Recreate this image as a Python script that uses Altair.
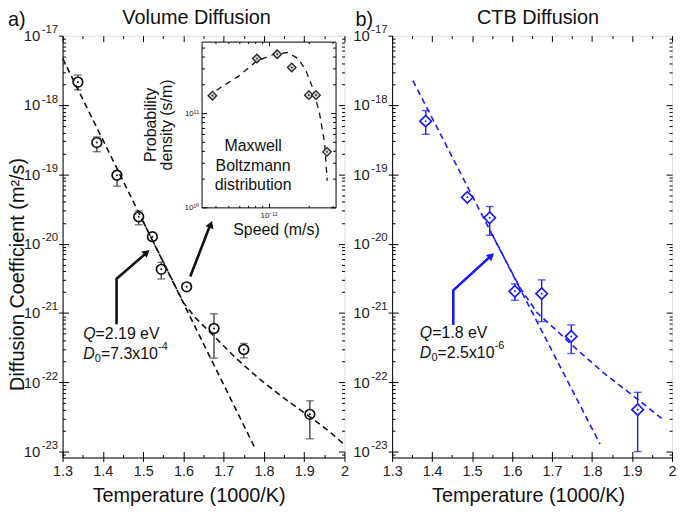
import altair as alt
import pandas as pd

FONT = "Liberation Sans"
BLUE = "#1a1aff"

# ---------------- data: panel a (Volume diffusion) ----------------
a_T = [1.338, 1.385, 1.435, 1.489, 1.523, 1.545, 1.608, 1.676, 1.750, 1.914]
a_D = [2.14e-18, 2.87e-19, 9.7e-20, 2.44e-20, 1.26e-20, 4.26e-21, 2.38e-21, 5.96e-22, 2.97e-22, 3.45e-23]
a_hi = [2.70e-18, 3.46e-19, 1.10e-19, 2.96e-20, 1.41e-20, 5.37e-21, 2.55e-21, 9.75e-22, 3.63e-22, 5.41e-23]
a_lo = [1.65e-18, 2.12e-19, 6.73e-20, 1.87e-20, 1.17e-20, 3.09e-21, 2.22e-21, 2.23e-22, 2.25e-22, 1.53e-23]

a_fit_T = [1.300, 1.776]
a_fit_D = [4.71e-18, 1.18e-23]
a_curve_T = [1.50, 1.56, 1.60, 1.63, 1.67, 1.73, 1.79, 1.85, 1.91, 1.96, 2.00]
a_curve_D = [2.09e-20, 4.17e-21, 1.41e-21, 8.51e-22, 5.01e-22, 2.24e-22, 1.10e-22, 5.89e-23, 3.31e-23, 2.0e-23, 1.26e-23]

a_arrow_id = [1, 1, 1, 2, 2]
a_arrow_T = [1.434, 1.434, 1.511, 1.617, 1.668]
a_arrow_D = [6.86e-22, 3.10e-21, 7.6e-21, 3.35e-21, 1.95e-20]
a_head_T = [1.509, 1.668]
a_head_D = [7.5e-21, 1.90e-20]
a_head_angle = [49, 21]
a_note_D = [4.9e-22, 2.54e-22]

# ---------------- data: panel b (CTB diffusion) ----------------
b_T = [1.384, 1.488, 1.544, 1.607, 1.674, 1.748, 1.914]
b_D = [5.85e-19, 4.65e-20, 2.36e-20, 2.05e-21, 1.90e-21, 4.59e-22, 4.03e-23]
b_hi = [8.30e-19, None, 3.43e-20, 2.63e-21, 3.0e-21, 6.73e-22, 7.16e-23]
b_lo = [3.78e-19, None, 1.32e-20, 1.52e-21, 7.5e-22, 2.60e-22, 1.0e-23]

b_fit_T = [1.352, 1.820]
b_fit_D = [2.24e-18, 1.28e-23]
b_curve_T = [1.55, 1.62, 1.664, 1.705, 1.7625, 1.828, 1.902, 1.980]
b_curve_D = [1.36e-20, 2.29e-21, 9.84e-22, 6.03e-22, 2.96e-22, 1.38e-22, 6.43e-23, 2.83e-23]

b_arrow_id = [1, 1, 1]
b_arrow_T = [1.453, 1.453, 1.550]
b_arrow_D = [6.73e-22, 2.12e-21, 6.9e-21]
b_head_T = [1.548]
b_head_D = [6.7e-21]
b_head_angle = [49]
b_note_D = [5.06e-22, 2.63e-22]

# ---------------- data: inset (Maxwell-Boltzmann) ----------------
in_speed = [3.81e-13, 8.18e-13, 1.16e-12, 1.49e-12, 2.00e-12, 2.26e-12, 2.73e-12]
in_prob = [1.53e11, 3.79e11, 4.21e11, 3.05e11, 1.55e11, 1.55e11, 3.88e10]
in_curve_speed = [4.08e-13, 5.94e-13, 8.07e-13, 1.08e-12, 1.39e-12, 1.66e-12, 1.90e-12, 2.14e-12, 2.40e-12, 2.62e-12, 2.74e-12]
in_curve_prob = [1.75e11, 2.45e11, 3.52e11, 4.18e11, 4.39e11, 3.79e11, 2.84e11, 1.83e11, 1.0e11, 4.83e10, 1.92e10]
in_note_speed = [7.67e-13]
in_note_prob = [4.5e10]

# ---------------- ticks ----------------
x_major = [1.3, 1.4, 1.5, 1.6, 1.7, 1.8, 1.9, 2.0]
x_minor = [1.35, 1.45, 1.55, 1.65, 1.75, 1.85, 1.95]
y_exps = [-23, -22, -21, -20, -19, -18, -17]
in_x_exps = [-12]
in_x_labels = ["10⁻¹²"]
in_y_exps = [10, 11]
in_y_labels = ["10¹⁰", "10¹¹"]

Y_LO, Y_HI = 10 ** -23.085, 1e-17
y_major = [10.0 ** e for e in y_exps]
y_all = [m * 10.0 ** e for e in range(-24, -17) for m in range(1, 10)
         if Y_LO <= m * 10.0 ** e <= Y_HI * 1.0001]
in_x_all = [4e-13, 5e-13, 6e-13, 7e-13, 8e-13, 9e-13, 1e-12, 2e-12, 3e-12]
in_y_all = [1e10, 2e10, 3e10, 4e10, 5e10, 6e10, 7e10, 8e10, 9e10, 1e11, 2e11, 3e11, 4e11, 5e11]

LOGEXP = "round(log(datum.value)/LN10)"
LOG_MAJOR = "abs(log(datum.value)/LN10 - round(log(datum.value)/LN10)) < 0.01"
X_MAJOR = "abs(datum.value*10 - round(datum.value*10)) < 0.01"


def label_expr(exps, labels):
    return "".join(f"{LOGEXP} == {e} ? '{l}' : " for e, l in zip(exps, labels)) + "''"


BASE = dict(labelFont=FONT, titleFont=FONT, labelColor="#222", titleColor="#111",
            domainColor="black", tickColor="black", titleFontWeight="normal", grid=False,
            labelFlush=False)


def ax(**kw):
    d = dict(BASE)
    d.update(kw)
    return alt.Axis(**d)


def inner(orient, offset, values, test, big=6, small=3, domain=False):
    return ax(orient=orient, offset=offset, values=values, labels=False, domain=domain,
              title=None, tickWidth=1,
              tickSize={"condition": {"test": test, "value": big}, "value": small})


W_A, W_B, H = 284, 282, 425
NOTE_FS = 16
SUB_FS = 11
IN_X0, IN_X1, IN_Y0, IN_Y1 = 140, 275, 173, 6


def panel(T, D, lo, hi, fitT, fitD, cT, cD, arT, arD, arId, hT, hD, hA,
          color, err_color, shape, psize, width, ytitle, title_text, title_x,
          letter, letter_x, note_T, note_D, q_txt, d_txt, xtitle_x, inset=False):
    xs = alt.Scale(domain=[1.3, 2.0], nice=False, zero=False)
    ys = alt.Scale(type="log", domain=[Y_LO, Y_HI], nice=False)

    def X(f, axis):
        return alt.X(f"{f}:Q", scale=xs, axis=axis)

    def Y(f, axis):
        return alt.Y(f"{f}:Q", scale=ys, axis=axis)

    main_x = ax(orient="bottom", values=x_major, format="~g", labelFontSize=14.5,
                tickSize=4, labelPadding=3, title="Temperature (1000/K)",
                titleFontSize=20, titlePadding=8, titleX=xtitle_x)
    ykw = dict(orient="left", values=y_major, labelExpr="'10'",
               labelFontSize=15, tickSize=4, labelPadding=19)
    if ytitle:
        ykw.update(title=ytitle, titleFontSize=20, titleX=-35, titleY=240,
                   titleBaseline="bottom", titleAngle=270)
    else:
        ykw.update(title=None)
    main_y = ax(**ykw)
    exp_y = ax(orient="left", values=y_major, labelExpr="'' + " + LOGEXP,
               labelFontSize=11.5, ticks=False, tickSize=0, domain=False, labelPadding=5,
               labelOffset=-6, title=None)

    df = pd.DataFrame({"T": T, "D": D, "lo": lo, "hi": hi})
    layers = [
        alt.Chart(df).mark_rule(color=err_color, strokeWidth=1.4).encode(
            x=X("T", main_x), y=Y("lo", main_y), y2="hi:Q"),
        alt.Chart(df).mark_tick(orient="horizontal", size=8, thickness=1.4, color=err_color).encode(
            x=X("T", inner("top", -H, x_major + x_minor, X_MAJOR)),
            y=Y("hi", inner("right", -width, y_all, LOG_MAJOR))),
        alt.Chart(df).mark_tick(orient="horizontal", size=8, thickness=1.4, color=err_color).encode(
            x=X("T", inner("bottom", -H, x_major + x_minor, X_MAJOR)),
            y=Y("lo", inner("left", -width, y_all, LOG_MAJOR))),
        alt.Chart(df).mark_point(shape=shape, filled=True, fill="white", size=psize,
                                 stroke=color, strokeWidth=1.7, opacity=1).encode(
            x=X("T", None), y=Y("D", exp_y)),
        alt.Chart(df).mark_point(shape="circle", filled=True, size=4, color=color, opacity=1).encode(
            x=X("T", None), y=Y("D", None)),
        alt.Chart(pd.DataFrame({"T": fitT, "D": fitD})).mark_line(
            color=color, strokeWidth=1.6, strokeDash=[6, 4]).encode(x=X("T", None), y=Y("D", None)),
        alt.Chart(pd.DataFrame({"T": cT, "D": cD})).mark_line(
            color=color, strokeWidth=1.6, strokeDash=[6, 4]).encode(x=X("T", None), y=Y("D", None)),
        alt.Chart(pd.DataFrame({"T": arT, "D": arD, "id": arId, "k": list(range(len(arT)))})).mark_line(
            color=color, strokeWidth=2.6).encode(
            x=X("T", None), y=Y("D", None), detail="id:N", order="k:Q"),
        alt.Chart(pd.DataFrame({"T": hT, "D": hD, "ang": hA})).mark_point(
            shape="triangle-up", filled=True, size=70, color=color, opacity=1).encode(
            x=X("T", None), y=Y("D", None), angle=alt.Angle("ang:Q", scale=None)),
    ]
    # annotation: Q=..., D0=...x10^-n  (pieces: italic letter, subscript, body, superscript)
    qd = pd.DataFrame({"T": [note_T], "D": [note_D[0]], "a": ["Q"], "b": [q_txt]})
    dd = pd.DataFrame({"T": [note_T], "D": [note_D[1]], "a": ["D"], "s": ["0"],
                       "b": [d_txt[0]], "e": [d_txt[1]]})
    txt = dict(baseline="middle", align="left", font=FONT, color="#111")
    layers += [
        alt.Chart(qd).mark_text(fontSize=NOTE_FS, fontStyle="italic", **txt).encode(
            x=X("T", None), y=Y("D", None), text="a:N"),
        alt.Chart(qd).mark_text(fontSize=NOTE_FS, dx=12.5, **txt).encode(
            x=X("T", None), y=Y("D", None), text="b:N"),
        alt.Chart(dd).mark_text(fontSize=NOTE_FS, fontStyle="italic", **txt).encode(
            x=X("T", None), y=Y("D", None), text="a:N"),
        alt.Chart(dd).mark_text(fontSize=SUB_FS, dx=11.8, dy=5, **txt).encode(
            x=X("T", None), y=Y("D", None), text="s:N"),
        alt.Chart(dd).mark_text(fontSize=NOTE_FS, dx=18, **txt).encode(
            x=X("T", None), y=Y("D", None), text="b:N"),
        alt.Chart(dd).mark_text(fontSize=SUB_FS, dx=75.5, dy=-7, **txt).encode(
            x=X("T", None), y=Y("D", None), text="e:N"),
        alt.Chart(pd.DataFrame({"t": [letter]})).mark_text(
            align="left", baseline="alphabetic", fontSize=20, font=FONT, color="#111").encode(
            x=alt.value(letter_x), y=alt.value(-10), text="t:N"),
        alt.Chart(pd.DataFrame({"t": [title_text]})).mark_text(
            align="center", baseline="alphabetic", fontSize=20, font=FONT, color="#111").encode(
            x=alt.value(title_x), y=alt.value(-12), text="t:N"),
    ]

    if inset:
        xi = alt.Scale(type="log", domain=[10 ** -12.5, 10 ** -11.5], range=[IN_X0, IN_X1], nice=False)
        yi = alt.Scale(type="log", domain=[1e10, 10 ** 11.758], range=[IN_Y0, IN_Y1], nice=False)

        def XI(f, axis):
            return alt.X(f"{f}:Q", scale=xi, axis=axis)

        def YI(f, axis):
            return alt.Y(f"{f}:Q", scale=yi, axis=axis)

        in_lab_x = ax(orient="bottom", offset=-(H - IN_Y0), values=[10.0 ** e for e in in_x_exps],
                      labelExpr=label_expr(in_x_exps, in_x_labels), labelFontSize=8,
                      ticks=False, labelPadding=4, domain=True, title="Speed (m/s)",
                      titleFontSize=16, titleX=215, titleY=27, titleBaseline="alphabetic")
        in_lab_y = ax(orient="left", offset=-IN_X0, values=[10.0 ** e for e in in_y_exps],
                      labelExpr=label_expr(in_y_exps, in_y_labels), labelFontSize=8,
                      ticks=False, labelPadding=3, domain=True,
                      title=["Probability", "density (s/m)"], titleFontSize=16,
                      titlePadding=10, titleLineHeight=16)
        dfi = pd.DataFrame({"s": in_speed, "p": in_prob})
        layers += [
            alt.Chart(pd.DataFrame({"s": in_curve_speed, "p": in_curve_prob})).mark_line(
                color="#111", strokeWidth=1.3, strokeDash=[6, 5]).encode(
                x=XI("s", inner("bottom", -(H - IN_Y1), in_x_all, LOG_MAJOR, 4, 2, True)),
                y=YI("p", inner("left", -IN_X1, in_y_all, LOG_MAJOR, 5, 3, True))),
            alt.Chart(dfi).mark_point(shape="diamond", filled=True, fill="#cfcfcf", size=75,
                                      stroke="#222", strokeWidth=1.3, opacity=1).encode(
                x=XI("s", in_lab_x), y=YI("p", in_lab_y)),
            alt.Chart(dfi).mark_point(shape="circle", filled=True, size=3, color="#222", opacity=1).encode(
                x=XI("s", inner("top", -IN_Y0, in_x_all, LOG_MAJOR, 4, 2)),
                y=YI("p", inner("right", -(width - IN_X0), in_y_all, LOG_MAJOR, 5, 3))),
            alt.Chart(pd.DataFrame({"s": in_note_speed, "p": in_note_prob,
                                    "t": ["Maxwell\nBoltzmann\ndistribution"]})).mark_text(
                align="center", baseline="middle", fontSize=16, lineHeight=20, lineBreak="\n",
                font=FONT, color="#111").encode(
                x=XI("s", None), y=YI("p", None), text="t:N"),
        ]

    return alt.layer(*layers).resolve_scale(x="independent", y="independent").resolve_axis(
        x="independent", y="independent").properties(width=width, height=H)


pa = panel(a_T, a_D, a_lo, a_hi, a_fit_T, a_fit_D, a_curve_T, a_curve_D,
           a_arrow_T, a_arrow_D, a_arrow_id, a_head_T, a_head_D, a_head_angle,
           "#111", "#444", "circle", 95, W_A, "Diffusion Coefficient (m²/s)",
           "Volume Diffusion", 135, "a)", -55, 1.351, a_note_D,
           "=2.19 eV", ("=7.3x10", "-4"), 127, inset=True)
pb = panel(b_T, b_D, b_lo, b_hi, b_fit_T, b_fit_D, b_curve_T, b_curve_D,
           b_arrow_T, b_arrow_D, b_arrow_id, b_head_T, b_head_D, b_head_angle,
           BLUE, BLUE, "diamond", 135, W_B, None,
           "CTB Diffusion", 147, "b)", -37, 1.369, b_note_D,
           "=1.8 eV", ("=2.5x10", "-6"), 137)

chart = alt.hconcat(pa, pb, spacing=2).properties(
    padding={"left": -1, "top": -3, "right": 0, "bottom": 0}, background="white").configure_view(
    stroke="black", strokeWidth=1.2).configure(font=FONT)

chart.save("out.html", embed_options={"renderer": "svg", "actions": False})
